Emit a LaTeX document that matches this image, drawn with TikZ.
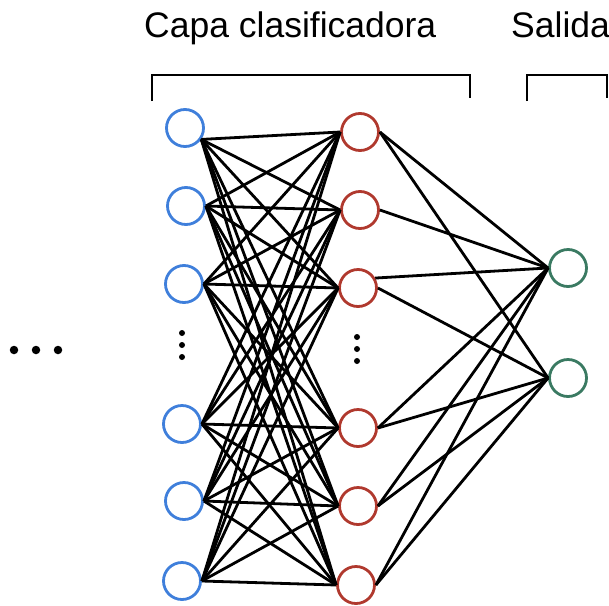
\documentclass[tikz,border=0pt]{standalone}
\usepackage{fontspec}
\setmainfont{Liberation Sans}
\definecolor{nblue}{HTML}{3F7FDB}
\definecolor{nred}{HTML}{B0392E}
\definecolor{ngreen}{HTML}{3A7A62}
\tikzset{
  neuron/.style={circle, draw, line width=2.8pt, minimum size=37pt, inner sep=0pt},
  bneuron/.style={neuron, draw=nblue},
  rneuron/.style={neuron, draw=nred},
  gneuron/.style={neuron, draw=ngreen},
  link/.style={line width=2.8pt, black},
  brk/.style={line width=2.4pt, black},
  dotmark/.style={circle, fill=black, inner sep=0pt, minimum size=6pt},
  bigdot/.style={circle, fill=black, inner sep=0pt, minimum size=8.5pt},
  title/.style={anchor=base west, inner sep=0pt, font=\fontsize{35.5}{40}\selectfont}
}
\begin{document}
\begin{tikzpicture}[x=1pt,y=-1pt]
\useasboundingbox (0,0) rectangle (609,605);
% titles
\node[title] (t1) at (144,37) {Capa clasificadora};
\node[title] (t2) at (511,37) {Salida};
% brackets
\coordinate (k1) at (152,101);
\coordinate (k2) at (152,75);
\coordinate (k3) at (470,75);
\coordinate (k4) at (470,98);
\draw[brk] (k1) -- (k2) -- (k3) -- (k4);
\coordinate (m1) at (527,101);
\coordinate (m2) at (527,75);
\coordinate (m3) at (607,75);
\coordinate (m4) at (607,98);
\draw[brk] (m1) -- (m2) -- (m3) -- (m4);
% blue nodes
\node[bneuron] (b1) at (185,128) {};
\node[bneuron] (b2) at (186,206) {};
\node[bneuron] (b3) at (184,284) {};
\node[bneuron] (b4) at (182,424) {};
\node[bneuron] (b5) at (184,501) {};
\node[bneuron] (b6) at (182,581) {};
% red nodes
\node[rneuron] (r1) at (360,132) {};
\node[rneuron] (r2) at (360,210) {};
\node[rneuron] (r3) at (358,288) {};
\node[rneuron] (r4) at (358,428) {};
\node[rneuron] (r5) at (358,506) {};
\node[rneuron] (r6) at (356,585) {};
% green nodes
\node[gneuron] (g1) at (568,268) {};
\node[gneuron] (g2) at (568,378) {};
% vertical dots
\node[dotmark] (d1) at (182,333) {};
\node[dotmark] (d2) at (182,345) {};
\node[dotmark] (d3) at (182,357) {};
\node[dotmark] (e1) at (357,337) {};
\node[dotmark] (e2) at (357,349) {};
\node[dotmark] (e3) at (357,361) {};
% horizontal dots
\node[bigdot] (h1) at (14,350) {};
\node[bigdot] (h2) at (36,350) {};
\node[bigdot] (h3) at (58,350) {};
% blue to red: full connections
\foreach \j in {1,...,6}{
  \draw[link] (b1.-35) -- (r\j.west);
}
\foreach \i in {2,...,6}{
  \foreach \j in {1,...,6}{
    \draw[link] (b\i.east) -- (r\j.west);
  }
}
% red to green
\draw[link] (r1.east) -- (g1.west);
\draw[link] (r1.east) -- (g2.west);
\draw[link] (r2.east) -- (g1.west);
\draw[link] (r3.30) -- (g1.west);
\draw[link] (r3.east) -- (g2.west);
\draw[link] (r4.east) -- (g1.west);
\draw[link] (r4.east) -- (g2.west);
\draw[link] (r5.east) -- (g1.west);
\draw[link] (r5.east) -- (g2.west);
\draw[link] (r6.east) -- (g1.west);
\draw[link] (r6.east) -- (g2.west);
\end{tikzpicture}
\end{document}
